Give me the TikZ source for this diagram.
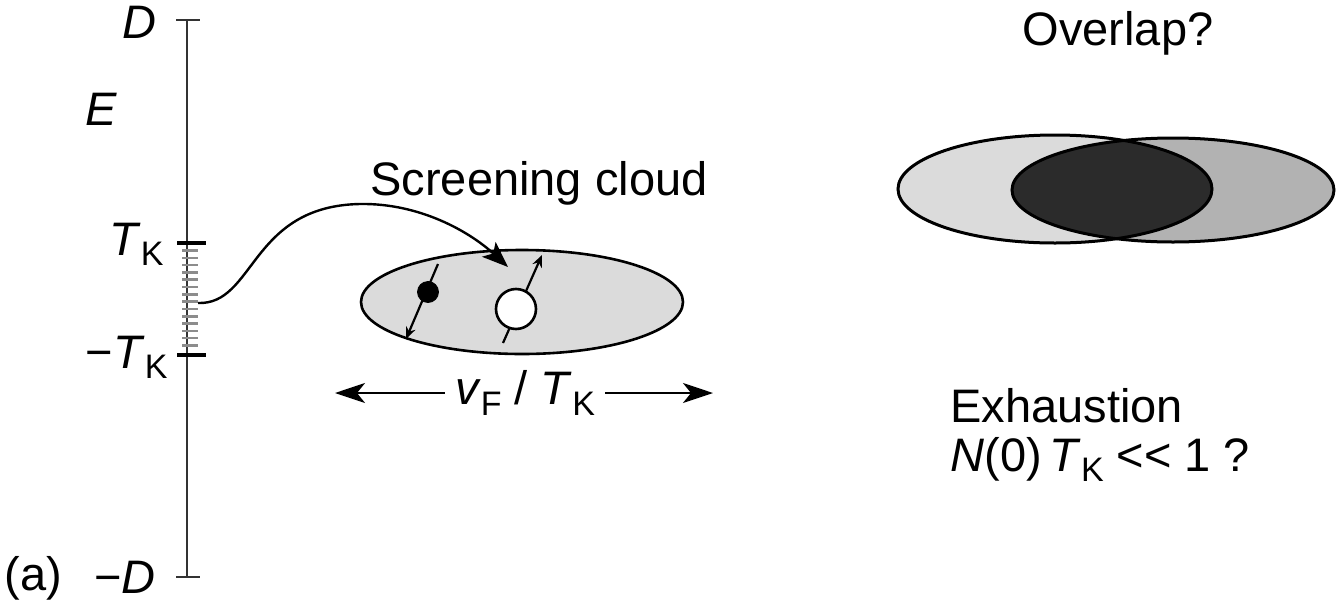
\documentclass[tikz,border=0pt]{standalone}
\usepackage{fontspec}
\setmainfont{Liberation Sans}
\usetikzlibrary{arrows.meta}
\newcommand{\lowsub}[1]{\raisebox{-0.42ex}{\fontsize{17}{20}\selectfont #1}}
\newcommand{\TK}{\textit{T}\lowsub{K}}
\begin{document}
\begin{tikzpicture}[x=0.5pt,y=-0.5pt,
  lbl/.style={font=\fontsize{23.5}{28}\selectfont, inner sep=0pt},
  axisline/.style={line width=1.3pt, black!80},
  tickmark/.style={line width=1.2pt, black!80},
  thicktick/.style={line width=2.4pt, black},
  hatch/.style={line width=1.3pt, black!45},
  cloud/.style={line width=1.3pt, fill=black!14},
  spin/.style={line width=1.1pt, -{Stealth[length=6pt,width=5pt]}},
  bigarrow/.style={line width=1.2pt, -{Stealth[length=15pt,width=10pt,inset=4pt]}}]
\useasboundingbox (0,0) rectangle (1341,606);

% energy axis
\coordinate (top) at (187,20);
\coordinate (bot) at (187,577);
\draw[axisline] (top) -- (bot);
\draw[tickmark] (176,20) -- (200,20);
\draw[tickmark] (176,577) -- (200,577);
\draw[thicktick] (177,243) -- (206,243);
\draw[thicktick] (177,355) -- (206,355);
\foreach \y in {250.5,257.8,...,350} \draw[hatch] (182,\y) -- (198,\y);

\node[lbl, anchor=base east] (lD) at (157,38) {\textit{D}};
\node[lbl, anchor=base] (lE) at (101,125) {\textit{E}};
\node[lbl, anchor=base east] (lTK) at (164,255) {\TK};
\node[lbl, anchor=base east] (lmTK) at (168,368) {−\TK};
\node[lbl, anchor=base east] (lmD) at (156,593) {−\textit{D}};
\node[lbl, anchor=base west] (la) at (4,590) {(a)};

% screening cloud
\node[lbl, anchor=base] (lcloud) at (539,195) {Screening cloud};
\draw[cloud] (522,302) ellipse [x radius=161, y radius=52];
\coordinate (src) at (198,303);
\coordinate (tip) at (508,267);
\draw[line width=1.2pt, -{Stealth[length=13pt,width=10pt,inset=3pt]}]
  (src) .. controls (255,305) and (250,206) .. (360,204)
        .. controls (420,203) and (470,232) .. (tip);

\coordinate (e1a) at (438,264);
\coordinate (e1b) at (406,339);
\draw[spin] (e1a) -- (e1b);
\node[circle, fill=black, draw=black, minimum size=10.5pt, inner sep=0pt] (el) at (428,292) {};

\coordinate (h1a) at (503,343);
\coordinate (h1b) at (542,255);
\draw[spin] (h1a) -- (h1b);
\node[circle, fill=white, draw=black, line width=1.3pt, minimum size=20pt, inner sep=0pt] (hole) at (516,309) {};

% size of the cloud
\node[lbl, inner sep=5pt] (len) at (525,393) {\textit{v}\lowsub{F} / \TK};
\coordinate (lenL) at (335,393);
\coordinate (lenR) at (713,393);
\draw[bigarrow] (len.west) -- (lenL);
\draw[bigarrow] (len.east) -- (lenR);

% overlapping clouds
\node[lbl, anchor=base] (lover) at (1118,45) {Overlap?};
\fill[black!14] (1055,189) ellipse [x radius=157, y radius=54];
\fill[black!30] (1173,190) ellipse [x radius=161, y radius=52];
\begin{scope}
  \clip (1055,189) ellipse [x radius=157, y radius=54];
  \fill[black!83] (1173,190) ellipse [x radius=161, y radius=52];
\end{scope}
\draw[line width=1.5pt] (1055,189) ellipse [x radius=157, y radius=54];
\draw[line width=1.5pt] (1173,190) ellipse [x radius=161, y radius=52];

\node[lbl, anchor=base west] (lexh) at (950,422) {Exhaustion};
\node[lbl, anchor=base west] (lcond) at (950,471) {\textit{N}(0)\,\TK\ {<}{<} 1 ?};
\end{tikzpicture}
\end{document}
